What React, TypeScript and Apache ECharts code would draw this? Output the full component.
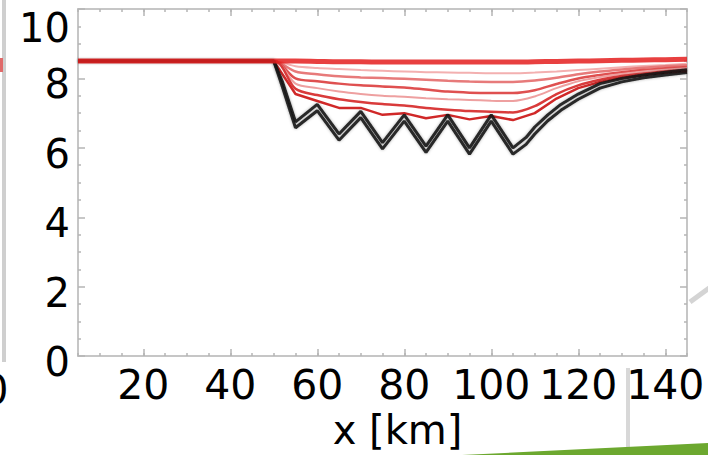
import React, { useEffect, useRef } from "react";
import * as echarts from "echarts";

// ---- data ----
const xTickLabels = [20, 40, 60, 80, 100, 120, 140];
const yTickLabels = [0, 2, 4, 6, 8, 10];

const xRed = [5, 50, 55, 60, 65, 70, 75, 80, 85, 90, 95, 100, 105, 110, 115, 120, 125, 130, 135, 140, 145];
const red1 = [8.5, 8.5, 8.5, 8.49, 8.48, 8.48, 8.47, 8.47, 8.47, 8.47, 8.47, 8.47, 8.47, 8.48, 8.49, 8.5, 8.51, 8.52, 8.53, 8.54, 8.55];
const red2 = [8.5, 8.5, 8.35, 8.3, 8.27, 8.24, 8.22, 8.2, 8.18, 8.17, 8.16, 8.15, 8.15, 8.17, 8.2, 8.24, 8.28, 8.32, 8.36, 8.39, 8.42];
const red3 = [8.5, 8.5, 8.2, 8.12, 8.06, 8.03, 8.01, 7.99, 7.96, 7.93, 7.91, 7.9, 7.9, 7.94, 8.02, 8.12, 8.2, 8.26, 8.31, 8.35, 8.38];
const red4 = [8.5, 8.5, 8.0, 7.92, 7.85, 7.8, 7.77, 7.74, 7.68, 7.62, 7.59, 7.58, 7.58, 7.66, 7.84, 8.0, 8.1, 8.18, 8.24, 8.29, 8.33];
const red5 = [8.5, 8.5, 7.85, 7.72, 7.62, 7.55, 7.5, 7.47, 7.43, 7.4, 7.38, 7.36, 7.35, 7.48, 7.72, 7.92, 8.04, 8.13, 8.2, 8.25, 8.29];
const red6 = [8.5, 8.5, 7.7, 7.52, 7.4, 7.32, 7.26, 7.22, 7.15, 7.1, 7.06, 7.04, 7.02, 7.2, 7.55, 7.8, 7.96, 8.07, 8.14, 8.2, 8.24];
const red7 = [8.5, 8.5, 7.55, 7.35, 7.15, 7.15, 6.95, 7.0, 6.85, 6.95, 6.82, 6.92, 6.8, 7.0, 7.42, 7.72, 7.9, 8.02, 8.1, 8.16, 8.2];

const xBlack = [5, 50, 52, 55, 60, 65, 70, 75, 80, 85, 90, 95, 100, 105, 108, 110, 113, 116, 120, 125, 130, 135, 140, 145];
const black1 = [8.5, 8.5, 7.9, 6.75, 7.25, 6.4, 7.05, 6.15, 6.95, 6.05, 6.95, 6.0, 6.95, 6.0, 6.3, 6.6, 6.95, 7.25, 7.55, 7.85, 8.0, 8.1, 8.18, 8.25];
const black2 = [8.5, 8.5, 7.75, 6.58, 7.07, 6.22, 6.87, 5.97, 6.77, 5.87, 6.77, 5.82, 6.77, 5.82, 6.1, 6.4, 6.78, 7.08, 7.4, 7.72, 7.9, 8.02, 8.1, 8.17];

const FONT = "DejaVu Sans";

function pairs(xs: number[], ys: number[]) {
  return xs.map((x, i) => [x, ys[i]]);
}

export default function App() {
  const ref = useRef<HTMLDivElement>(null);
  useEffect(() => {
    document.body.style.margin = "0";
    const chart = echarts.init(ref.current!, null, { renderer: "svg" });
    const lineColor = "#c6c6c6";
    const tickColor = "#b4b4b4";
    const redSeries = [
      { d: red1, c: "#e41e1e", w: 5, smooth: 0.3, z: 30, o: 0.85 },
      { d: red2, c: "#f3b0b0", w: 2, smooth: 0.3, z: 3, o: 1 },
      { d: red3, c: "#e77a7a", w: 2.5, smooth: 0.3, z: 4, o: 1 },
      { d: red4, c: "#df5050", w: 2.5, smooth: 0.3, z: 5, o: 1 },
      { d: red5, c: "#eea0a0", w: 2, smooth: 0.3, z: 6, o: 1 },
      { d: red6, c: "#d93b3b", w: 2.5, smooth: 0.3, z: 7, o: 1 },
      { d: red7, c: "#d02828", w: 2.5, smooth: false, z: 8, o: 1 },
    ].map((s) => ({
      type: "line",
      data: pairs(xRed, s.d),
      showSymbol: false,
      smooth: s.smooth,
      z: s.z,
      lineStyle: { color: s.c, width: s.w, opacity: s.o },
      silent: true,
    }));
    const blackSeries = [black1, black2].map((d, i) => ({
      type: "line",
      data: pairs(xBlack, d),
      showSymbol: false,
      smooth: false,
      z: 20 + i,
      lineStyle: {
        color: "#151515",
        width: 3,
        opacity: 0.9,
        shadowColor: "rgba(0,0,0,0.35)",
        shadowBlur: 3,
      },
      silent: true,
    }));

    const xBase = { type: "value", min: 5, max: 145, splitLine: { show: false } };
    chart.setOption({
      animation: false,
      backgroundColor: "#ffffff",
      grid: { left: 78, right: 21, top: 9, bottom: 95 },
      xAxis: [
        {
          ...xBase,
          position: "bottom",
          interval: 5,
          axisLine: { show: true, lineStyle: { color: lineColor, width: 2 } },
          axisTick: { show: true, inside: true, length: 3, lineStyle: { color: tickColor, width: 1.5 } },
          axisLabel: {
            customValues: xTickLabels,
            fontSize: 41,
            fontFamily: FONT,
            color: "#000",
            margin: 8,
          },
          name: "x [km]",
          nameLocation: "middle",
          nameGap: 51,
          nameTextStyle: { fontSize: 40, fontFamily: FONT, color: "#000", padding: [0, 0, 0, 30] },
        },
        {
          ...xBase,
          position: "bottom",
          axisLine: { show: false },
          axisTick: { show: true, inside: true, length: 7, customValues: xTickLabels, lineStyle: { color: tickColor, width: 1.5 } },
          axisLabel: { show: false },
        },
        {
          ...xBase,
          position: "top",
          interval: 5,
          axisLine: { show: true, lineStyle: { color: lineColor, width: 2 } },
          axisTick: { show: true, inside: true, length: 3, lineStyle: { color: tickColor, width: 1.5 } },
          axisLabel: { show: false },
        },
        {
          ...xBase,
          position: "top",
          axisLine: { show: false },
          axisTick: { show: true, inside: true, length: 7, customValues: xTickLabels, lineStyle: { color: tickColor, width: 1.5 } },
          axisLabel: { show: false },
        },
      ],
      yAxis: [
        {
          type: "value",
          min: 0,
          max: 10,
          interval: 2,
          position: "left",
          splitLine: { show: false },
          axisLine: { show: true, lineStyle: { color: lineColor, width: 2 } },
          axisTick: { show: true, inside: true, length: 7, lineStyle: { color: tickColor, width: 1.5 } },
          minorTick: { show: true, splitNumber: 4, length: 3, lineStyle: { color: tickColor, width: 1.5 } },
          axisLabel: {
            fontSize: 40,
            fontFamily: FONT,
            color: "#000",
            margin: 8,
            customValues: yTickLabels,
            formatter: (v: number) => (v === 10 ? `{t|${v}}` : `{n|${v}}`),
            rich: {
              n: { fontSize: 40, fontFamily: FONT, color: "#000", padding: [12, 0, 0, 0] },
              t: { fontSize: 40, fontFamily: FONT, color: "#000", padding: [38, 0, 0, 0] },
            },
          },
        },
        {
          type: "value",
          min: 0,
          max: 10,
          interval: 2,
          position: "right",
          splitLine: { show: false },
          axisLine: { show: true, lineStyle: { color: lineColor, width: 2 } },
          axisTick: { show: true, inside: true, length: 7, lineStyle: { color: tickColor, width: 1.5 } },
          minorTick: { show: true, splitNumber: 4, length: 3, lineStyle: { color: tickColor, width: 1.5 } },
          axisLabel: { show: false },
        },
      ],
      graphic: [
        { type: "rect", shape: { x: 2, y: 0, width: 4, height: 362 }, style: { fill: "#cfcfcf" }, z: 1 },
        { type: "rect", shape: { x: 0, y: 58, width: 3, height: 14 }, style: { fill: "#e06a6a" }, z: 2 },
        { type: "text", x: -17, y: 370, style: { text: "0", fontSize: 40, fontFamily: FONT, fill: "#000" }, z: 2 },
        { type: "line", shape: { x1: 690, y1: 302, x2: 712, y2: 286 }, style: { stroke: "#d4d4d4", lineWidth: 5 }, z: 1 },
        { type: "rect", shape: { x: 626, y: 368, width: 4, height: 90 }, style: { fill: "#d8d8d8" }, z: 1 },
        { type: "polygon", shape: { points: [[462, 455], [708, 443], [708, 455]] }, style: { fill: "#6ca82f" }, z: 1 },
      ],
      series: [...redSeries, ...blackSeries],
    });
    return () => chart.dispose();
  }, []);
  return <div ref={ref} style={{ width: 708, height: 455 }} />;
}
